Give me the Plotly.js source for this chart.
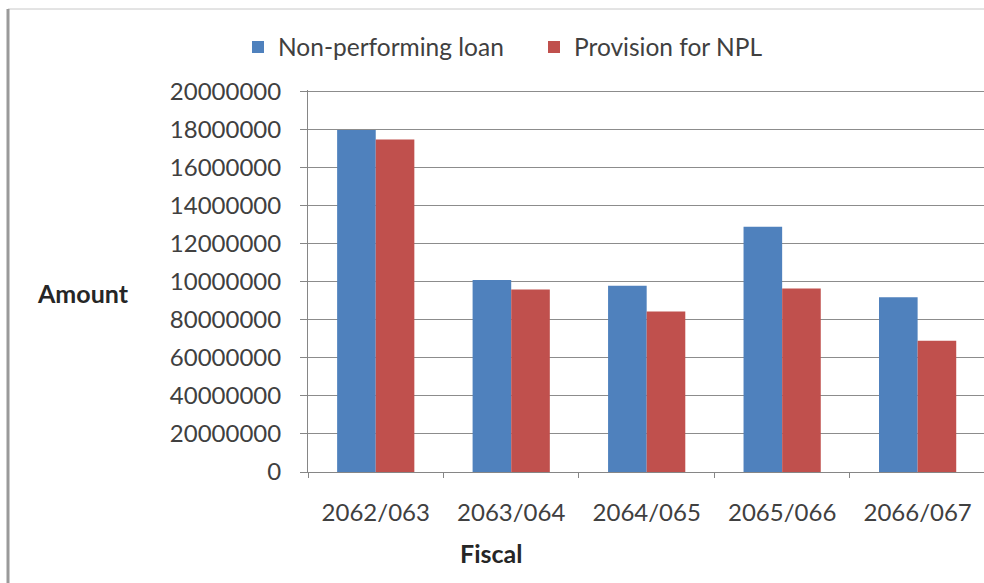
<!DOCTYPE html>
<html>
<head>
<meta charset="utf-8">
<script src="https://cdn.plot.ly/plotly-3.0.1.min.js"></script>
<style>
  html, body { margin: 0; padding: 0; background: #ffffff; }
  #chart { width: 984px; height: 583px; }
</style>
</head>
<body>
<div id="chart"></div>
<script>
// Data
const categories = ["2062/063", "2063/064", "2064/065", "2065/066", "2066/067"];
const nplValues = [18000000, 10100000, 9800000, 12900000, 9200000];
const provisionValues = [17500000, 9600000, 8450000, 9650000, 6900000];
const seriesNames = ["Non-performing loan", "Provision for NPL"];
const yTickVals = [0, 2000000, 4000000, 6000000, 8000000, 10000000, 12000000, 14000000, 16000000, 18000000, 20000000];
const yTickText = ["0", "20000000", "40000000", "60000000", "80000000", "10000000", "12000000", "14000000", "16000000", "18000000", "20000000"];
const xTitle = "Fiscal";
const yTitle = "Amount";

const W = 984, H = 583;
const L = 308, R = 0, T = 90, B = 111;
const pw = W - L - R, ph = H - T - B;
const px = x => (x - L) / pw;
const py = y => 1 - (y - T) / ph;

const traces = [
  { type: "bar", name: seriesNames[0], x: categories, y: nplValues, marker: { color: "#4F81BD" } },
  { type: "bar", name: seriesNames[1], x: categories, y: provisionValues, marker: { color: "#C0504D" } }
];

const layout = {
  width: W, height: H,
  margin: { l: L, r: R, t: T, b: B, pad: 0 },
  paper_bgcolor: "#ffffff",
  plot_bgcolor: "#ffffff",
  font: { family: "Lato, 'Open Sans', sans-serif", color: "#404040" },
  barmode: "group",
  bargap: 0.43,
  bargroupgap: 0,
  showlegend: true,
  legend: {
    orientation: "h",
    x: px(238), xanchor: "left",
    y: py(47), yanchor: "middle",
    font: { size: 24.5, color: "#404040" },
    bgcolor: "rgba(0,0,0,0)",
    entrywidth: 251,
    traceorder: "normal"
  },
  xaxis: {
    type: "category",
    range: [-0.5, 4.49],
    showline: true, linecolor: "#868686", linewidth: 1,
    ticks: "outside", tickson: "boundaries", ticklen: 5, tickcolor: "#868686",
    showgrid: false, zeroline: false,
    tickfont: { size: 24, color: "#404040" },
    ticklabelstandoff: 19
  },
  yaxis: {
    range: [0, 20100000],
    tickmode: "array", tickvals: yTickVals, ticktext: yTickText,
    showline: true, linecolor: "#868686", linewidth: 1,
    ticks: "outside", ticklen: 7, tickcolor: "#868686",
    showgrid: true, gridcolor: "#8c8c8c", gridwidth: 1,
    zeroline: false,
    tickfont: { size: 24, color: "#404040" },
    ticklabelstandoff: 14
  },
  annotations: [
    { text: "<b>" + xTitle + "</b>", xref: "paper", yref: "paper", x: px(491), y: py(553),
      xanchor: "center", yanchor: "middle", showarrow: false, font: { size: 25, color: "#262626" } },
    { text: "<b>" + yTitle + "</b>", xref: "paper", yref: "paper", x: px(83), y: py(293),
      xanchor: "center", yanchor: "middle", showarrow: false, font: { size: 25, color: "#262626" } }
  ],
  shapes: [
    { type: "line", xref: "paper", yref: "paper", x0: px(8), x1: px(984), y0: py(9), y1: py(9),
      line: { color: "#c8c8c8", width: 1 } },
    { type: "line", xref: "paper", yref: "paper", x0: px(8), x1: px(8), y0: py(9), y1: py(583),
      line: { color: "#9a9a9a", width: 3 } }
  ]
};

Plotly.newPlot("chart", traces, layout, { displayModeBar: false, staticPlot: true });
</script>
</body>
</html>
